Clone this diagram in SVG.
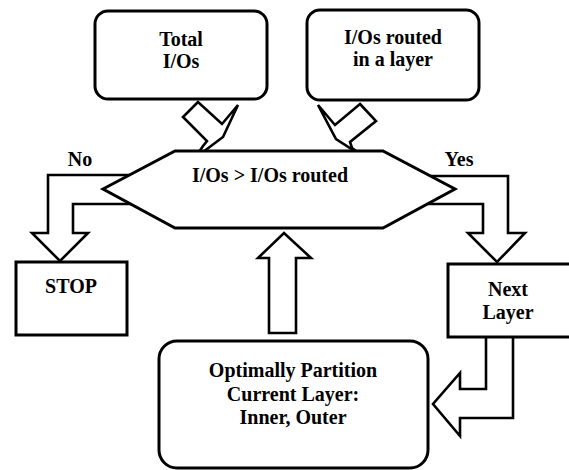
<svg xmlns="http://www.w3.org/2000/svg" width="569" height="470" viewBox="0 0 569 470">
<style>
.s{fill:#fff;stroke:#000;stroke-width:3;stroke-linejoin:miter}
.a{fill:#fff;stroke:#000;stroke-width:2.6;stroke-linejoin:miter}
text{font-family:'Liberation Serif','DejaVu Serif',serif;font-weight:700;font-size:20px;fill:#000;text-anchor:middle}
</style>
<rect width="569" height="470" fill="#fff"/>
<g id="connectors">
<polygon class="a" points="198,102 183,117 207,141 203,146 195,158 223,137 238,105 222,124"/>
<polygon class="a" points="360,104 376,121 350,142 352,148 367,159 336,139 318,105 335,125"/>
<polyline class="a" points="131,175 48,175 48,233 32,233 60,261 88,233 73,233 73,204 131,204"/>
<polyline class="a" points="428,176 508,176 508,233 525,233 497,262 468,233 483,233 483,204 428,204"/>
<polygon class="a" points="269,333 296,333 296,258 311,258 284,233 258,258 269,258"/>
<polyline class="a" points="486,337 486,389 460,389 460,373 433,404 460,436 460,418 513,418 513,337"/>
</g>
<g id="decision">
<polygon class="s" points="103,189 175,151 383,151 455,189 383,228 175,228"/>
<text x="270" y="182" font-family="Liberation Serif, serif">I/Os &gt; I/Os routed</text>
</g>
<g id="total">
<rect class="s" x="95" y="11" width="172" height="88" rx="13"/>
<text x="181" y="46">Total</text>
<text x="181" y="68">I/Os</text>
</g>
<g id="routed">
<rect class="s" x="307" y="10" width="172" height="90" rx="13"/>
<text x="393" y="44">I/Os routed</text>
<text x="393" y="66">in a layer</text>
</g>
<g id="labels">
<text x="80" y="166">No</text>
<text x="459" y="166">Yes</text>
</g>
<g id="stop">
<rect class="s" x="16" y="262" width="111" height="73"/>
<text x="71" y="293">STOP</text>
</g>
<g id="next">
<rect class="s" x="448" y="264" width="130" height="73"/>
<text x="508" y="296">Next</text>
<text x="508" y="319">Layer</text>
</g>
<g id="partition">
<rect class="s" x="159" y="341" width="269" height="127" rx="18"/>
<text x="293" y="377">Optimally Partition</text>
<text x="293" y="401">Current Layer:</text>
<text x="293" y="424">Inner, Outer</text>
</g>
</svg>
